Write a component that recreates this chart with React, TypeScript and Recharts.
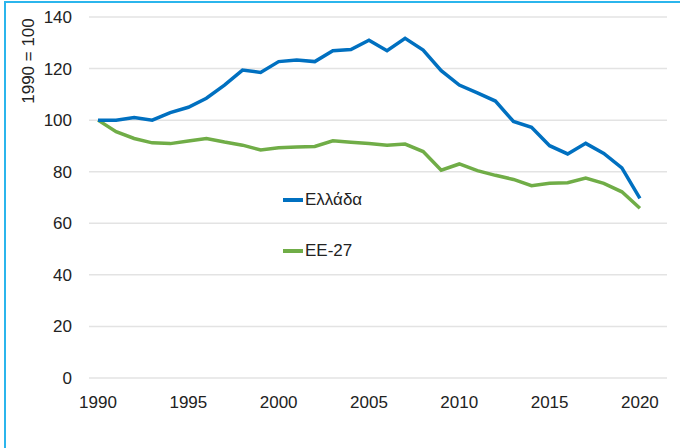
import React from "react";
import { LineChart, Line, XAxis, YAxis, CartesianGrid } from "recharts";

const years = [
  1990, 1991, 1992, 1993, 1994, 1995, 1996, 1997, 1998, 1999, 2000, 2001, 2002, 2003, 2004, 2005,
  2006, 2007, 2008, 2009, 2010, 2011, 2012, 2013, 2014, 2015, 2016, 2017, 2018, 2019, 2020,
];

const greece = [
  100, 100, 101, 100, 102.9, 105, 108.5, 113.6, 119.4, 118.5, 122.7, 123.3, 122.7, 126.9, 127.4, 131,
  126.9, 131.7, 127.2, 119.2, 113.6, 110.6, 107.4, 99.5, 97.2, 90.1, 86.9, 91, 87.1, 81.5, 69.7,
];

const eu27 = [
  100, 95.5, 92.9, 91.2, 90.9, 91.9, 92.9, 91.5, 90.3, 88.4, 89.3, 89.6, 89.8, 92, 91.4, 90.9,
  90.3, 90.7, 87.8, 80.6, 83, 80.4, 78.6, 77, 74.6, 75.5, 75.7, 77.5, 75.5, 72.2, 65.8,
];

const xTicks = [1990, 1995, 2000, 2005, 2010, 2015, 2020];
const yTicks = [0, 20, 40, 60, 80, 100, 120, 140];

const seriesNames = ["Ελλάδα", "ΕΕ-27"];
const BLUE = "#0070c0";
const GREEN = "#70ad47";

const data = years.map((year, i) => ({ year, greece: greece[i], eu27: eu27[i] }));

const font = "'Liberation Sans', Arial, sans-serif";

export default function App() {
  return (
    <div style={{ position: "absolute", left: 0, top: 0, width: 680, height: 448, overflow: "hidden", background: "#fff", fontFamily: font }}>
      <div style={{ position: "absolute", left: 4, top: 1, width: 700, height: 470, borderLeft: "2px solid #2bb5ec", borderTop: "2px solid #2bb5ec" }} />
      <LineChart width={680} height={448} data={data} margin={{ top: 17, right: 13, bottom: 40, left: 0 }}>
        <CartesianGrid vertical={false} stroke="#e3e3e3" strokeWidth={1.5} />
        <XAxis
          dataKey="year"
          type="number"
          domain={[1989.5, 2021.5]}
          ticks={xTicks}
          axisLine={false}
          tickLine={false}
          tickMargin={12}
          height={30}
          tick={{ fill: "#222", fontSize: 17, fontFamily: font }}
        />
        <YAxis
          domain={[0, 140]}
          ticks={yTicks}
          width={89}
          axisLine={false}
          tickLine={false}
          tickMargin={11}
          tick={{ fill: "#222", fontSize: 17, fontFamily: font }}
          label={({ viewBox }: any) => (
            <text
              x={28}
              y={(viewBox?.y ?? 17) + 44}
              transform={`rotate(-90, 28, ${(viewBox?.y ?? 17) + 44})`}
              textAnchor="middle"
              dominantBaseline="central"
              fill="#222"
              fontSize={17}
              fontFamily={font}
            >
              1990 = 100
            </text>
          )}
        />
        <Line type="linear" dataKey="eu27" stroke={GREEN} strokeWidth={3.5} dot={false} isAnimationActive={false} />
        <Line type="linear" dataKey="greece" stroke={BLUE} strokeWidth={3.5} dot={false} isAnimationActive={false} />
      </LineChart>
      {seriesNames.map((name, i) => (
        <div
          key={name}
          style={{ position: "absolute", left: 283, top: 188 + i * 51, display: "flex", alignItems: "center", fontSize: 17, color: "#222", lineHeight: "24px" }}
        >
          <span style={{ display: "inline-block", width: 20, height: 3.5, background: i === 0 ? BLUE : GREEN, marginRight: 2 }} />
          {name}
        </div>
      ))}
    </div>
  );
}
